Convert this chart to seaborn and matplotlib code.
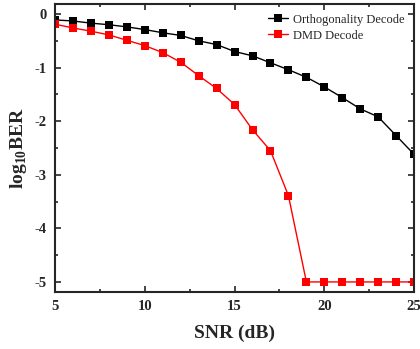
import matplotlib
matplotlib.use('Agg')
import matplotlib.pyplot as plt
import pandas as pd
import seaborn as sns
from matplotlib.ticker import MultipleLocator

snr = list(range(5, 26))
orth = [-0.11, -0.13, -0.17, -0.20, -0.24, -0.29, -0.35, -0.40, -0.50, -0.57,
        -0.70, -0.78, -0.91, -1.04, -1.18, -1.36, -1.56, -1.77, -1.92, -2.27, -2.62]
dmd = [-0.19, -0.26, -0.32, -0.39, -0.49, -0.59, -0.72, -0.90, -1.15, -1.39,
       -1.69, -2.16, -2.55, -3.39, -5.0, -5.0, -5.0, -5.0, -5.0, -5.0, -5.0]
names = ['Orthogonality Decode', 'DMD Decode']

df = pd.concat([
    pd.DataFrame({'snr': snr, 'ber': orth, 'method': names[0]}),
    pd.DataFrame({'snr': snr, 'ber': dmd, 'method': names[1]}),
])

sns.set_style('ticks')
plt.rcParams['font.family'] = ['Liberation Serif', 'DejaVu Serif']
plt.rcParams['mathtext.fontset'] = 'custom'
plt.rcParams['mathtext.bf'] = 'Liberation Serif:bold'
plt.rcParams['mathtext.rm'] = 'Liberation Serif:bold'
plt.rcParams['axes.unicode_minus'] = False

fig = plt.figure(figsize=(4.2, 3.49), dpi=100)
ax = fig.add_axes([0.131, 0.163, 0.855, 0.826])

sns.lineplot(data=df, x='snr', y='ber', hue='method', palette=['black', 'red'],
             marker='s', markersize=5.5, markeredgewidth=0, linewidth=1,
             ax=ax, clip_on=True)

ax.set_xlim(5, 25)
ax.set_ylim(-5.19, 0.19)
ax.xaxis.set_major_locator(MultipleLocator(5))
ax.xaxis.set_minor_locator(MultipleLocator(2.5))
ax.yaxis.set_major_locator(MultipleLocator(1))
ax.yaxis.set_minor_locator(MultipleLocator(0.5))
ax.tick_params(which='both', direction='in', top=True, right=True, width=1.2)
ax.tick_params(which='major', length=4, labelsize=10.5, pad=6)
ax.tick_params(which='minor', length=2.5)
for lab in ax.get_xticklabels() + ax.get_yticklabels():
    lab.set_fontweight('bold')
for sp in ax.spines.values():
    sp.set_linewidth(1.5)

ax.set_xlabel('SNR (dB)', fontsize=14, fontweight='bold', labelpad=8)
ax.set_ylabel(r'log$_{\mathrm{10}}$BER', fontsize=14, fontweight='bold', labelpad=4)

leg = ax.legend(title=None, frameon=False, loc='upper right', fontsize=9,
                handlelength=1.6, handletextpad=0.4, labelspacing=0.3,
                borderaxespad=0.4)

fig.savefig('out.png', dpi=100)
